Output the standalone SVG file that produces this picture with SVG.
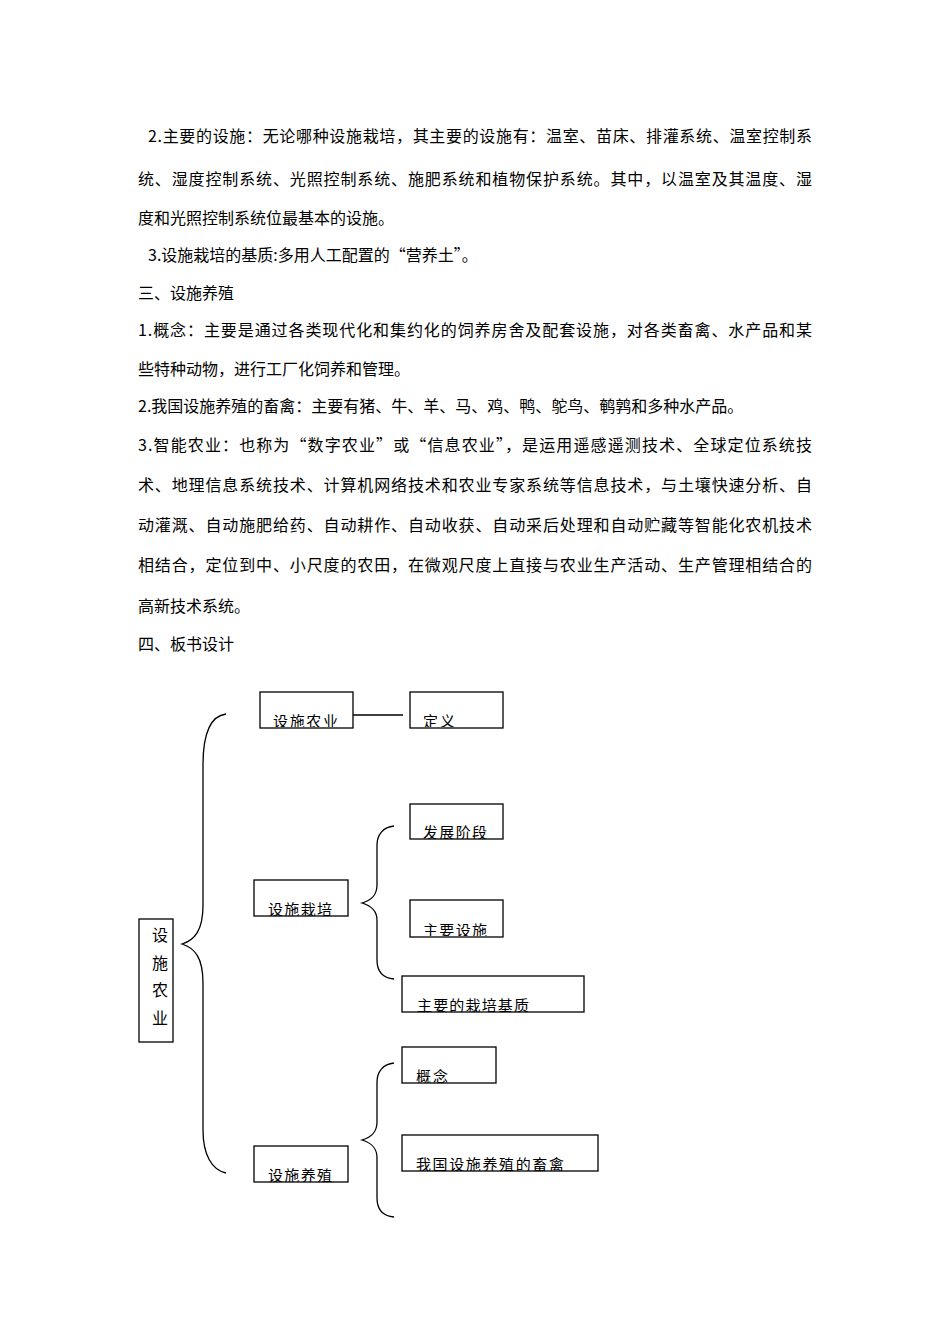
<svg xmlns="http://www.w3.org/2000/svg" width="950" height="1344" viewBox="0 0 950 1344">
<style>
.t{font-family:"Noto Sans CJK SC","Liberation Sans",sans-serif;font-size:16px;fill:#000}
.b{font-family:"Noto Sans CJK SC","Liberation Sans",sans-serif;font-size:15px;fill:#000}
rect{fill:#fff;stroke:#000;stroke-width:1.3}
path,line{fill:none;stroke:#000;stroke-width:1.3}
</style>
<defs>
<clipPath id="c1" clipPathUnits="userSpaceOnUse"><rect x="260" y="692" width="93" height="35"/></clipPath>
<clipPath id="c2" clipPathUnits="userSpaceOnUse"><rect x="410" y="692" width="93" height="35"/></clipPath>
<clipPath id="c3" clipPathUnits="userSpaceOnUse"><rect x="410" y="804" width="93" height="35"/></clipPath>
<clipPath id="c4" clipPathUnits="userSpaceOnUse"><rect x="254" y="880" width="94" height="36"/></clipPath>
<clipPath id="c5" clipPathUnits="userSpaceOnUse"><rect x="410" y="900" width="93" height="36"/></clipPath>
<clipPath id="c6" clipPathUnits="userSpaceOnUse"><rect x="402" y="976" width="182" height="36"/></clipPath>
<clipPath id="c7" clipPathUnits="userSpaceOnUse"><rect x="402" y="1047" width="94" height="36"/></clipPath>
<clipPath id="c8" clipPathUnits="userSpaceOnUse"><rect x="254" y="1146" width="94" height="36"/></clipPath>
<clipPath id="c9" clipPathUnits="userSpaceOnUse"><rect x="402" y="1135" width="196" height="36"/></clipPath>
</defs>
<g id="body">
<text class="t" x="148" y="142" textLength="664" lengthAdjust="spacing">2.主要的设施：无论哪种设施栽培，其主要的设施有：温室、苗床、排灌系统、温室控制系</text>
<text class="t" x="138" y="185" textLength="674" lengthAdjust="spacing">统、湿度控制系统、光照控制系统、施肥系统和植物保护系统。其中，以温室及其温度、湿</text>
<text class="t" x="138" y="224">度和光照控制系统位最基本的设施。</text>
<text class="t" x="148" y="261">3.设施栽培的基质:多用人工配置的“营养土”。</text>
<text class="t" x="138" y="299">三、设施养殖</text>
<text class="t" x="138" y="336" textLength="674" lengthAdjust="spacing">1.概念：主要是通过各类现代化和集约化的饲养房舍及配套设施，对各类畜禽、水产品和某</text>
<text class="t" x="138" y="375">些特种动物，进行工厂化饲养和管理。</text>
<text class="t" x="138" y="412">2.我国设施养殖的畜禽：主要有猪、牛、羊、马、鸡、鸭、鸵鸟、鹌鹑和多种水产品。</text>
<text class="t" x="138" y="451" textLength="674" lengthAdjust="spacing">3.智能农业：也称为“数字农业”或“信息农业”，是运用遥感遥测技术、全球定位系统技</text>
<text class="t" x="138" y="491" textLength="674" lengthAdjust="spacing">术、地理信息系统技术、计算机网络技术和农业专家系统等信息技术，与土壤快速分析、自</text>
<text class="t" x="138" y="531" textLength="674" lengthAdjust="spacing">动灌溉、自动施肥给药、自动耕作、自动收获、自动采后处理和自动贮藏等智能化农机技术</text>
<text class="t" x="138" y="571" textLength="674" lengthAdjust="spacing">相结合，定位到中、小尺度的农田，在微观尺度上直接与农业生产活动、生产管理相结合的</text>
<text class="t" x="138" y="612">高新技术系统。</text>
<text class="t" x="138" y="650">四、板书设计</text>
</g>
<g id="connectors">
<line x1="353" y1="715" x2="403" y2="715"/>
<path d="M226,714 C210,716 203,735 203,765 L203,905 C203,930 195,940 182,944 C195,948 203,958 203,983 L203,1130 C203,1155 212,1170 226,1173"/>
<path d="M394,826 C383,827 377,835 377,845 L377,885 C377,895 372,900 362,903 C372,906 377,911 377,920 L377,960 C377,972 383,978 394,979"/>
<path d="M394,1063 C383,1064 377,1072 377,1082 L377,1122 C377,1132 372,1137 362,1140 C372,1143 377,1148 377,1158 L377,1198 C377,1210 383,1216 394,1217"/>
</g>
<g id="n0"><rect x="139" y="919" width="34" height="123"/>
<text class="t" x="160" y="941" text-anchor="middle">设</text><text class="t" x="160" y="969" text-anchor="middle">施</text><text class="t" x="160" y="996" text-anchor="middle">农</text><text class="t" x="160" y="1024" text-anchor="middle">业</text></g>
<g id="n1"><rect x="260" y="692" width="93" height="36"/><text class="b" x="273" y="727" clip-path="url(#c1)" textLength="65">设施农业</text></g>
<g id="n2"><rect x="410" y="692" width="93" height="36"/><text class="b" x="423" y="727" clip-path="url(#c2)" textLength="32">定义</text></g>
<g id="n3"><rect x="410" y="804" width="93" height="35"/><text class="b" x="423" y="838" clip-path="url(#c3)" textLength="64">发展阶段</text></g>
<g id="n4"><rect x="254" y="880" width="94" height="36"/><text class="b" x="268" y="915" clip-path="url(#c4)" textLength="64">设施栽培</text></g>
<g id="n5"><rect x="410" y="900" width="93" height="37"/><text class="b" x="423" y="936" clip-path="url(#c5)" textLength="64">主要设施</text></g>
<g id="n6"><rect x="402" y="976" width="182" height="36"/><text class="b" x="417" y="1011" clip-path="url(#c6)" textLength="112">主要的栽培基质</text></g>
<g id="n7"><rect x="402" y="1047" width="94" height="36"/><text class="b" x="416" y="1082" clip-path="url(#c7)" textLength="32">概念</text></g>
<g id="n8"><rect x="254" y="1146" width="94" height="36"/><text class="b" x="268" y="1181" clip-path="url(#c8)" textLength="64">设施养殖</text></g>
<g id="n9"><rect x="402" y="1135" width="196" height="36"/><text class="b" x="416" y="1170" clip-path="url(#c9)" textLength="148">我国设施养殖的畜禽</text></g>
</svg>
